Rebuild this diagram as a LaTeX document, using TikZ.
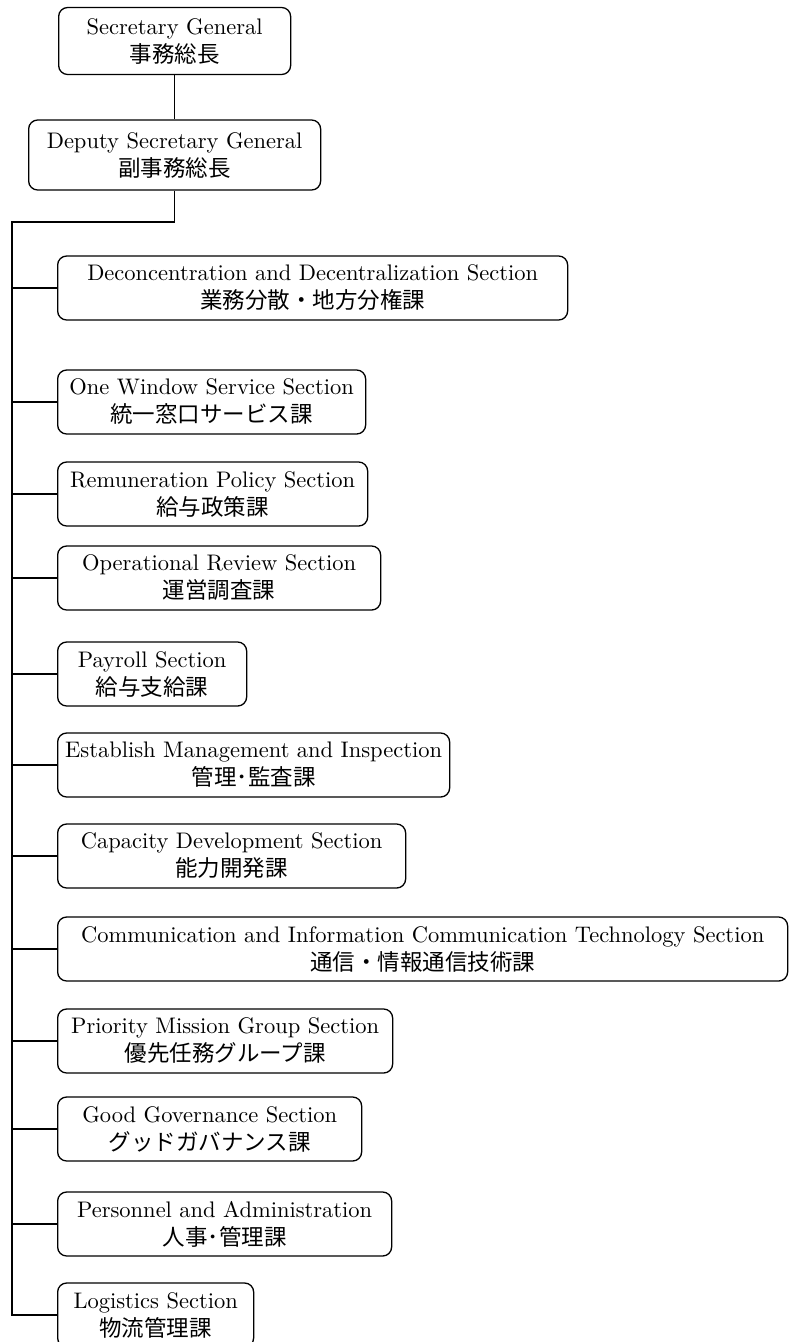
\documentclass[tikz,border=0pt]{standalone}
\usepackage{fontspec}
\setmainfont{lmroman10-regular.otf}
\newfontfamily\jp{Noto Sans CJK JP}

\tikzset{
  post/.style={draw, line width=1.3pt, rounded corners=9pt, align=center,
    inner sep=0pt, minimum height=64pt, anchor=west,
    font=\fontsize{22.5}{28}\selectfont},
  link/.style={line width=1.3pt}
}

\begin{document}
\begin{tikzpicture}[x=1pt,y=-1pt]
\useasboundingbox (0,0) rectangle (788,1342);
\node[post, minimum width=232, minimum height=67] (sg) at (58,41) {Secretary General\\{\jp 事務総長}};
\node[post, minimum width=292, minimum height=70] (dsg) at (28,155) {Deputy Secretary General\\{\jp 副事務総長}};
\node[post, minimum width=510] (dec) at (57,288) {Deconcentration and Decentralization Section\\{\jp 業務分散・地方分権課}};
\node[post, minimum width=308] (owin) at (57,402) {One Window Service Section\\{\jp 統一窓口サービス課}};
\node[post, minimum width=310] (rem) at (57,494) {Remuneration Policy Section\\{\jp 給与政策課}};
\node[post, minimum width=323] (oprev) at (57,578) {Operational Review Section\\{\jp 運営調査課}};
\node[post, minimum width=189] (pay) at (57,674) {Payroll Section\\{\jp 給与支給課}};
\node[post, minimum width=392] (est) at (57,765) {Establish Management and Inspection\\{\jp 管理･監査課}};
\node[post, minimum width=348] (cap) at (57,856) {Capacity Development Section\\{\jp 能力開発課}};
\node[post, minimum width=730] (ict) at (57,949) {Communication and Information Communication Technology Section\\{\jp 通信・情報通信技術課}};
\node[post, minimum width=335] (pmg) at (57,1041) {Priority Mission Group Section\\{\jp 優先任務グループ課}};
\node[post, minimum width=304] (gg) at (57,1129) {Good Governance Section\\{\jp グッドガバナンス課}};
\node[post, minimum width=334] (pers) at (57,1224) {Personnel and Administration\\{\jp 人事･管理課}};
\node[post, minimum width=196] (log) at (57,1315) {Logistics Section\\{\jp 物流管理課}};
\coordinate (fork) at (12,222); % coude de la ligne principale
\draw[link] (sg) -- (dsg);
\draw[link] (dsg.south) |- (fork) -- (fork |- log.west) -- (log.west);
\draw[link] (fork |- dec.west) -- (dec.west);
\draw[link] (fork |- owin.west) -- (owin.west);
\draw[link] (fork |- rem.west) -- (rem.west);
\draw[link] (fork |- oprev.west) -- (oprev.west);
\draw[link] (fork |- pay.west) -- (pay.west);
\draw[link] (fork |- est.west) -- (est.west);
\draw[link] (fork |- cap.west) -- (cap.west);
\draw[link] (fork |- ict.west) -- (ict.west);
\draw[link] (fork |- pmg.west) -- (pmg.west);
\draw[link] (fork |- gg.west) -- (gg.west);
\draw[link] (fork |- pers.west) -- (pers.west);
\end{tikzpicture}
\end{document}
